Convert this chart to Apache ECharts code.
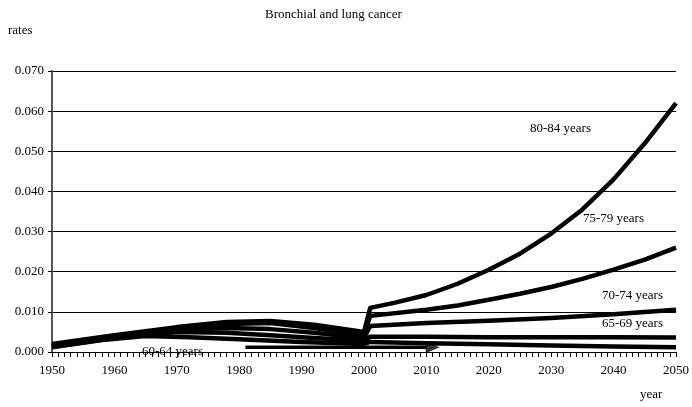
<!DOCTYPE html>
<html><head><meta charset="utf-8">
<script src="https://cdn.jsdelivr.net/npm/echarts@6/dist/echarts.min.js"></script>
<style>html,body{margin:0;padding:0;background:#fff}#c{width:692px;height:407px}</style>
</head><body><div id="c"></div>
<script>
// [year, rate]
const age80 = [[1950,0.002],[1960,0.0042],[1970,0.0062],[1978,0.0075],[1985,0.0077],[1992,0.0068],[2000,0.005],[2001,0.011],[2005,0.0123],[2010,0.0142],[2015,0.017],[2020,0.0205],[2025,0.0245],[2030,0.0295],[2035,0.0355],[2040,0.043],[2045,0.052],[2050,0.062]]
const age75 = [[1950,0.0017],[1960,0.004],[1970,0.006],[1978,0.007],[1985,0.0072],[1992,0.006],[2000,0.0042],[2001,0.009],[2010,0.0105],[2015,0.0116],[2020,0.013],[2025,0.0145],[2030,0.0162],[2035,0.0182],[2040,0.0205],[2045,0.023],[2050,0.026]]
const age70 = [[1950,0.0015],[1960,0.0038],[1970,0.0055],[1978,0.006],[1985,0.0057],[1992,0.0048],[2000,0.0035],[2001,0.0065],[2010,0.0072],[2020,0.0078],[2030,0.0085],[2040,0.0094],[2050,0.0105]]
const age65 = [[1950,0.0013],[1960,0.0035],[1970,0.005],[1978,0.0048],[1985,0.0042],[1992,0.0035],[2000,0.0028],[2001,0.0038],[2010,0.0038],[2020,0.0037],[2030,0.0037],[2040,0.0037],[2050,0.0036]]
const age60 = [[1950,0.0012],[1958,0.003],[1965,0.004],[1972,0.0037],[1980,0.0032],[1990,0.0025],[2000,0.002],[2001,0.0025],[2010,0.0022],[2020,0.0019],[2030,0.0016],[2040,0.0014],[2050,0.0012]]
const seriesNames = ['80-84 years','75-79 years','70-74 years','65-69 years','60-64 years']
const seriesData = [age80, age75, age70, age65, age60]
const arrowLine = [[1981, 0.0012], [2010, 0.0012]]
const arrowHead = [[2011, 0.0012]]

const font = 'Liberation Serif'
const chart = echarts.init(document.getElementById('c'))
const series = seriesData.map((d, i) => ({
    name: seriesNames[i], type: 'line', data: d, symbol: 'none', clip: false,
    lineStyle: {color: '#000', width: 4.5, join: 'round'}
}))
series.push({
    type: 'line', data: arrowLine, symbol: 'none', clip: false, silent: true,
    lineStyle: {color: '#000', width: 3.5}
}, {
    type: 'scatter', data: arrowHead, symbol: 'triangle', symbolSize: [12, 14],
    symbolRotate: -90, clip: false, silent: true, itemStyle: {color: '#000'}
})
const txt = (x, y, t, size) => ({type: 'text', left: x, top: y, style: {text: t, font: (size || 13) + 'px ' + font, fill: '#000'}})
chart.setOption({
    animation: false,
    grid: {left: 52, right: 13, top: 71, bottom: 55},
    xAxis: {
        type: 'value', min: 1950, max: 2050, interval: 10,
        axisLine: {lineStyle: {color: '#000'}},
        axisTick: {length: 5, lineStyle: {color: '#000'}},
        minorTick: {show: true, splitNumber: 10, length: 5, lineStyle: {color: '#000'}},
        axisLabel: {color: '#000', fontFamily: font, fontSize: 13, margin: 12, formatter: v => String(v)},
        splitLine: {show: false}
    },
    yAxis: {
        type: 'value', min: 0, max: 0.07, interval: 0.01,
        axisLine: {show: true, lineStyle: {color: '#555', width: 2}},
        axisTick: {show: true, length: 4, lineStyle: {color: '#000'}},
        axisLabel: {color: '#000', fontFamily: font, fontSize: 13, formatter: v => v.toFixed(3)},
        splitLine: {lineStyle: {color: '#000', width: 1}}
    },
    graphic: [
        txt(265, 8, 'Bronchial and lung cancer'),
        txt(8, 24, 'rates'),
        txt(640, 388, 'year'),
        txt(530, 122, '80-84 years'),
        txt(583, 212, '75-79 years'),
        txt(602, 289, '70-74 years'),
        txt(602, 317, '65-69 years'),
        txt(142, 345, '60-64 years')
    ],
    series: series
})
</script></body></html>
